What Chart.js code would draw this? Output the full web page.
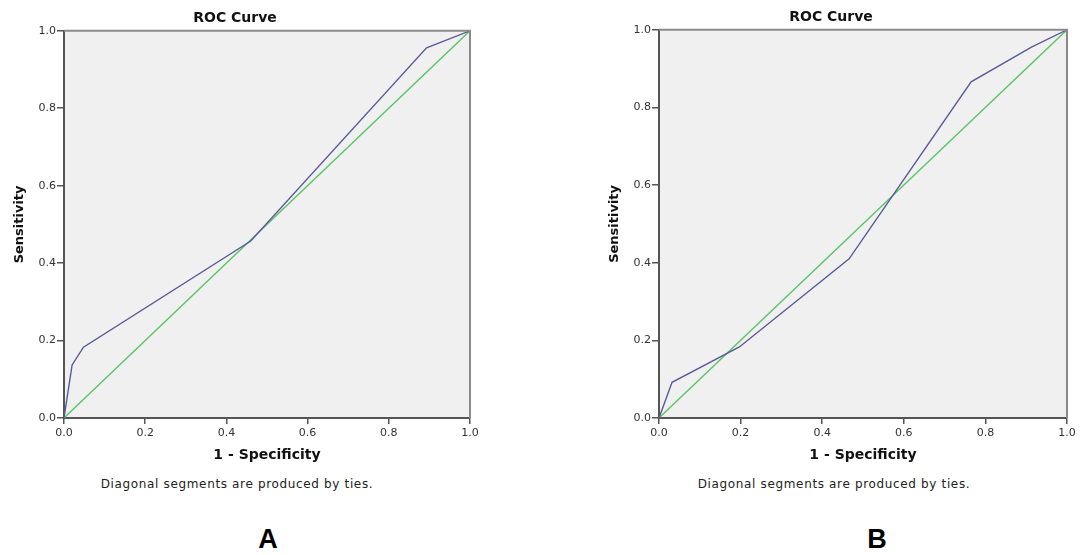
<!DOCTYPE html>
<html>
<head>
<meta charset="utf-8">
<script src="https://cdn.jsdelivr.net/npm/chart.js@4"></script>
<style>
  body { margin: 0; background: #fff; width: 1087px; height: 555px; position: relative; overflow: hidden; font-family: "DejaVu Sans", sans-serif; }
  .box { position: absolute; top: 0; height: 470px; }
  .note { position: absolute; top: 477px; font-size: 12px; color: #222; transform: translateX(-50%); white-space: nowrap; letter-spacing: 0.65px; }
  .lab { position: absolute; top: 524px; font-family: "Liberation Sans", Arial, sans-serif; font-weight: bold; font-size: 27px; color: #000; transform: translateX(-50%); }
</style>
</head>
<body>
<div class="box" style="left:0;width:540px"><canvas id="rocA"></canvas></div>
<div class="box" style="left:595px;width:492px"><canvas id="rocB"></canvas></div>
<div class="note" style="left:237px">Diagonal segments are produced by ties.</div>
<div class="note" style="left:834px">Diagonal segments are produced by ties.</div>
<div class="lab" style="left:268px">A</div>
<div class="lab" style="left:877px">B</div>
<script>
// ROC A
const fprA = [0, 0.02, 0.048, 0.46, 0.893, 1];
const tprA = [0, 0.137, 0.183, 0.457, 0.956, 1];
// ROC B
const fprB = [0, 0.032, 0.197, 0.466, 0.765, 0.914, 1];
const tprB = [0, 0.092, 0.183, 0.41, 0.866, 0.956, 1];
// reference line
const refX = [0, 1];
const refY = [0, 1];
const axisTicks = [0, 0.2, 0.4, 0.6, 0.8, 1];

const pts = (xs, ys) => xs.map((x, i) => ({x: x, y: ys[i]}));

const plotFrame = {
  id: 'plotFrame',
  beforeDraw(chart) {
    const {ctx, chartArea: a} = chart;
    ctx.save();
    ctx.fillStyle = '#f0f0f0';
    ctx.fillRect(a.left, a.top, a.right - a.left, a.bottom - a.top);
    ctx.restore();
  },
  afterDraw(chart) {
    const {ctx, chartArea: a} = chart;
    ctx.save();
    ctx.strokeStyle = '#8a8a8a';
    ctx.lineWidth = 2;
    ctx.beginPath();
    ctx.moveTo(a.left, a.top);
    ctx.lineTo(a.right, a.top);
    ctx.lineTo(a.right, a.bottom);
    ctx.stroke();
    ctx.restore();
  }
};

function makeRoc(id, xs, ys, padTop, padRight) {
  new Chart(document.getElementById(id), {
    type: 'scatter',
    data: {
      datasets: [
        {
          label: 'ROC',
          data: pts(xs, ys),
          showLine: true,
          borderColor: '#5a5a9a',
          borderWidth: 1.4,
          pointRadius: 0,
          order: 1
        },
        {
          label: 'Reference',
          data: pts(refX, refY),
          showLine: true,
          borderColor: '#5cc468',
          borderWidth: 1.4,
          pointRadius: 0,
          order: 2
        }
      ]
    },
    options: {
      responsive: true,
      maintainAspectRatio: false,
      animation: false,
      layout: { padding: { right: padRight } },
      plugins: {
        legend: { display: false },
        tooltip: { enabled: false },
        title: {
          display: true,
          text: 'ROC Curve',
          color: '#111',
          font: { family: 'DejaVu Sans', size: 14, weight: 'bold' },
          padding: { top: padTop, bottom: 4 }
        }
      },
      scales: {
        x: {
          type: 'linear',
          min: 0, max: 1,
          afterBuildTicks: s => { s.ticks = axisTicks.map(v => ({value: v})); },
          afterFit: s => { s.height = 52; },
          ticks: {
            callback: v => v.toFixed(1),
            color: '#333',
            padding: 3,
            maxRotation: 0,
            font: { family: 'DejaVu Sans', size: 11 }
          },
          grid: { drawOnChartArea: false, drawTicks: true, tickLength: 6, color: '#555', lineWidth: 1.5 },
          border: { color: '#555', width: 2 },
          title: {
            display: true,
            text: '1 - Specificity',
            color: '#111',
            font: { family: 'DejaVu Sans', size: 14, weight: 'bold' },
            padding: { top: 0, bottom: 6 }
          }
        },
        y: {
          type: 'linear',
          min: 0, max: 1,
          afterBuildTicks: s => { s.ticks = axisTicks.map(v => ({value: v})); },
          afterFit: s => { s.width = 64; },
          ticks: {
            callback: v => v.toFixed(1),
            color: '#333',
            padding: 1,
            font: { family: 'DejaVu Sans', size: 11 }
          },
          grid: { drawOnChartArea: false, drawTicks: true, tickLength: 7, color: '#555', lineWidth: 1.5 },
          border: { color: '#555', width: 2 },
          title: {
            display: true,
            text: 'Sensitivity',
            color: '#111',
            font: { family: 'DejaVu Sans', size: 13, weight: 'bold' },
            padding: { top: 12, bottom: 0 }
          }
        }
      }
    },
    plugins: [plotFrame]
  });
}

makeRoc('rocA', fprA, tprA, 10, 70);
makeRoc('rocB', fprB, tprB, 9, 20);
</script>
</body>
</html>
